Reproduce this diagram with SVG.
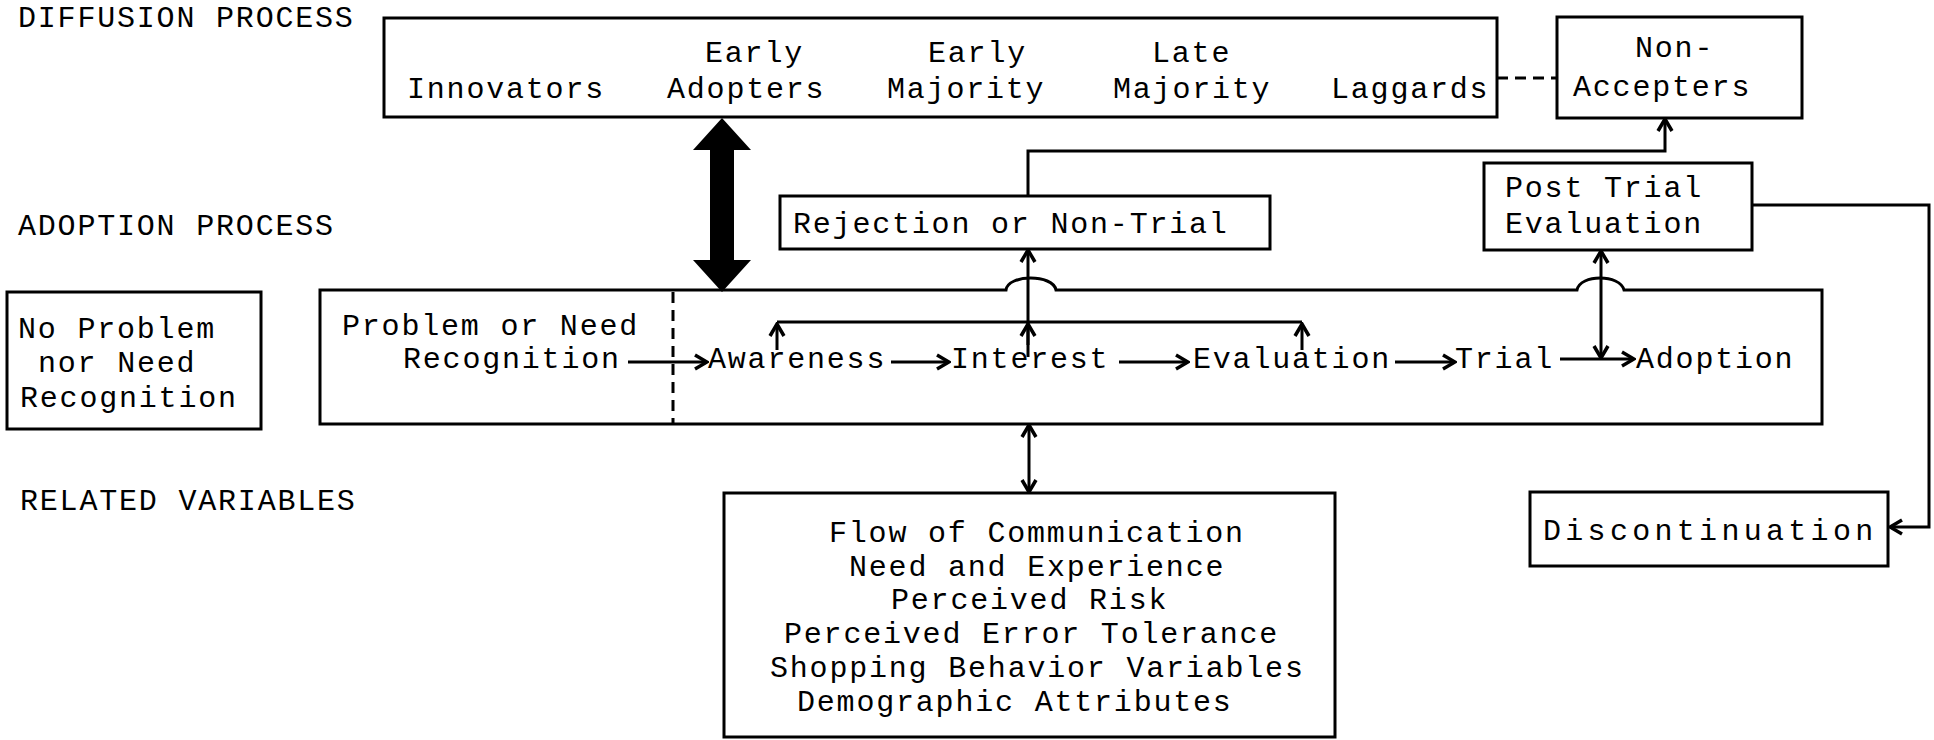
<svg xmlns="http://www.w3.org/2000/svg" width="1934" height="740" viewBox="0 0 1934 740">
<style>
text{font-family:"Liberation Mono","Courier New",monospace;font-size:30px;letter-spacing:1.8px;fill:#000}
.box{fill:none;stroke:#000;stroke-width:3}
.ln{fill:none;stroke:#000;stroke-width:3}
.ar{fill:none;stroke:#000;stroke-width:3;marker-end:url(#ah)}
.ar2{fill:none;stroke:#000;stroke-width:3;marker-start:url(#ah);marker-end:url(#ah)}
.dash{fill:none;stroke:#000;stroke-width:3;stroke-dasharray:11 7}
</style>
<defs>
<marker id="ah" viewBox="0 0 16 18" refX="14" refY="9" markerWidth="16" markerHeight="18" markerUnits="userSpaceOnUse" orient="auto-start-reverse">
<path d="M2,2 L14,9 L2,16" fill="none" stroke="#000" stroke-width="3.5"/>
</marker>
</defs>
<rect width="1934" height="740" fill="#fff"/>

<g id="labels">
<text x="18" y="27">DIFFUSION PROCESS</text>
<text x="18" y="235">ADOPTION PROCESS</text>
<text x="20" y="510">RELATED VARIABLES</text>
</g>

<g id="diffusion">
<rect class="box" x="384" y="18" width="1113" height="99"/>
<text x="407" y="98">Innovators</text>
<text x="705" y="62">Early</text>
<text x="667" y="98">Adopters</text>
<text x="928" y="62">Early</text>
<text x="887" y="98">Majority</text>
<text x="1152" y="62">Late</text>
<text x="1113" y="98">Majority</text>
<text x="1331" y="98">Laggards</text>
</g>

<g id="nonaccepters">
<rect class="box" x="1557" y="17" width="245" height="101"/>
<text x="1635" y="57">Non-</text>
<text x="1573" y="96">Accepters</text>
</g>

<g id="rejection">
<rect class="box" x="780" y="196" width="490" height="53"/>
<text x="793" y="233">Rejection or Non-Trial</text>
</g>

<g id="posttrial">
<rect class="box" x="1484" y="163" width="268" height="87"/>
<text x="1505" y="197">Post Trial</text>
<text x="1505" y="233">Evaluation</text>
</g>

<g id="noproblem">
<rect class="box" x="7" y="292" width="254" height="137"/>
<text x="18" y="338">No Problem</text>
<text x="38" y="372">nor Need</text>
<text x="20" y="407">Recognition</text>
</g>

<g id="adoption">
<path class="box" d="M320,290 H1006 C1008,274 1053,274 1056,290 H1577 C1580,274 1620,274 1624,290 H1822 V424 H320 Z"/>
<path class="dash" d="M673,292 V424"/>
<text x="342" y="335">Problem or Need</text>
<text x="403" y="368">Recognition</text>
<text x="708" y="368">Awareness</text>
<text x="951" y="368">Interest</text>
<text x="1193" y="368">Evaluation</text>
<text x="1455" y="368">Trial</text>
<text x="1636" y="368">Adoption</text>
</g>

<g id="variables">
<rect class="box" x="724" y="493" width="611" height="244"/>
<text x="829" y="542">Flow of Communication</text>
<text x="849" y="576">Need and Experience</text>
<text x="891" y="609">Perceived Risk</text>
<text x="784" y="643">Perceived Error Tolerance</text>
<text x="770" y="677">Shopping Behavior Variables</text>
<text x="797" y="711">Demographic Attributes</text>
</g>

<g id="discontinuation">
<rect class="box" x="1530" y="492" width="358" height="74"/>
<text x="1543" y="540" textLength="332">Discontinuation</text>
</g>

<g id="connectors">
<path d="M722,118 L751,150 L734,150 L734,260 L751,260 L722,292 L693,260 L710,260 L710,150 L693,150 Z" fill="#000"/>
<path class="dash" d="M1497,78 H1557"/>
<path class="ar" d="M628,362 H707"/>
<path class="ar" d="M891,362 H949"/>
<path class="ar" d="M1119,362 H1188"/>
<path class="ar" d="M1395,362 H1455"/>
<path class="ar" d="M1560,359 H1634"/>
<path class="ln" d="M777,322 H1302"/>
<path class="ar" d="M777,350 V324"/>
<path class="ar" d="M1302,350 V324"/>
<path class="ar" d="M1028,357 V250"/>
<path class="ar" d="M1028,345 V324"/>
<path class="ar" d="M1028,196 V151 H1665 V119"/>
<path class="ar2" d="M1601,358 V251"/>
<path class="ar" d="M1752,205 H1929 V527 H1890"/>
<path class="ar2" d="M1029,425 V492"/>
</g>
</svg>
